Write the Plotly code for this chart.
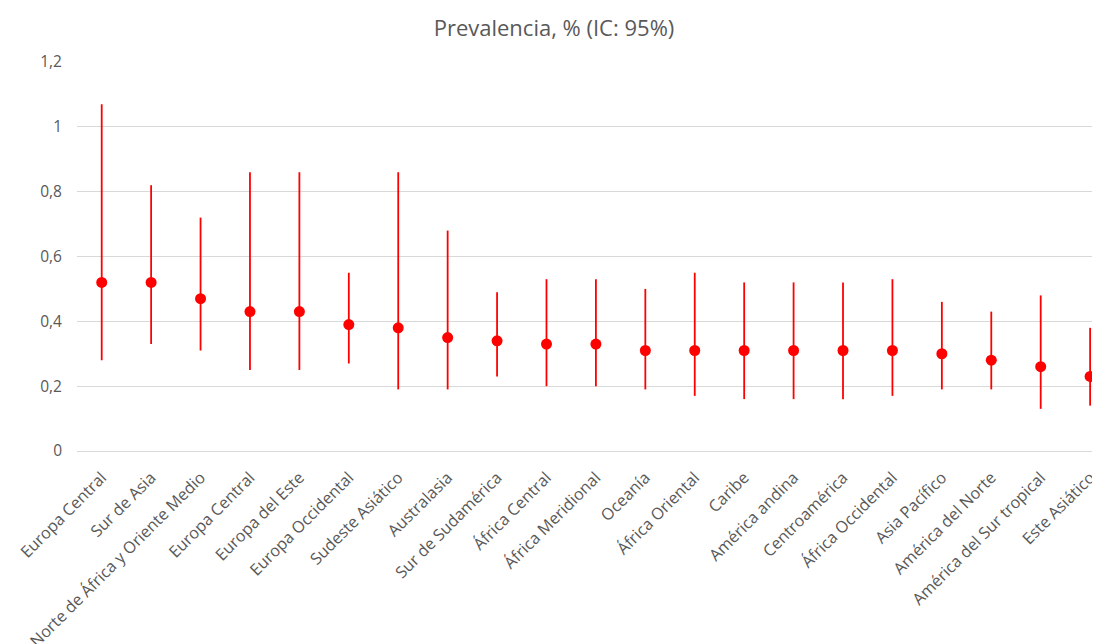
import plotly.graph_objects as go

regions = ["Europa Central", "Sur de Asia", "Norte de África y Oriente Medio", "Europa Central",
           "Europa del Este", "Europa Occidental", "Sudeste Asiático", "Australasia",
           "Sur de Sudamérica", "África Central", "África Meridional", "Oceanía",
           "África Oriental", "Caribe", "América andina", "Centroamérica",
           "África Occidental", "Asia Pacífico", "América del Norte",
           "América del Sur tropical", "Este Asiático"]
prevalence = [0.52, 0.52, 0.47, 0.43, 0.43, 0.39, 0.38, 0.35, 0.34, 0.33, 0.33,
              0.31, 0.31, 0.31, 0.31, 0.31, 0.31, 0.30, 0.28, 0.26, 0.23]
ci_low = [0.28, 0.33, 0.31, 0.25, 0.25, 0.27, 0.19, 0.19, 0.23, 0.20, 0.20,
          0.19, 0.17, 0.16, 0.16, 0.16, 0.17, 0.19, 0.19, 0.13, 0.14]
ci_high = [1.07, 0.82, 0.72, 0.86, 0.86, 0.55, 0.86, 0.68, 0.49, 0.53, 0.53,
           0.50, 0.55, 0.52, 0.52, 0.52, 0.53, 0.46, 0.43, 0.48, 0.38]
y_ticks = [0, 0.2, 0.4, 0.6, 0.8, 1.0, 1.2]

x_pos = list(range(len(regions)))
err_plus = [h - p for h, p in zip(ci_high, prevalence)]
err_minus = [p - l for p, l in zip(prevalence, ci_low)]

fig = go.Figure(go.Scatter(
    x=x_pos, y=prevalence, mode="markers",
    marker=dict(color="#ff0000", size=11),
    error_y=dict(type="data", symmetric=False, array=err_plus, arrayminus=err_minus,
                 color="#ff0000", thickness=1.8, width=0),
))

# page body has an 8px default margin, so the figure is sized 8px smaller
fig.update_layout(
    width=1092, height=636,
    paper_bgcolor="white", plot_bgcolor="white",
    separators=",.",
    font=dict(family="Open Sans, Noto Sans, sans-serif", color="#595959", size=14),
    title=dict(text="Prevalencia, % (IC: 95%)", x=0.5, xanchor="center", y=0.9686,
               yanchor="middle", font=dict(size=22, color="#595959")),
    margin=dict(l=69, r=0, t=54, b=193),
    showlegend=False,
    xaxis=dict(tickmode="array", tickvals=x_pos, ticktext=regions, tickangle=-45,
               range=[-0.5, 20.2], showgrid=False, zeroline=False, showline=False,
               automargin=False, ticklabelstandoff=13,
               tickfont=dict(size=16.2, color="#595959")),
    yaxis=dict(range=[0, 1.2], tickvals=y_ticks, showgrid=True, gridcolor="#d9d9d9",
               gridwidth=1, zeroline=True, zerolinecolor="#d9d9d9", zerolinewidth=1,
               automargin=False, ticklabelstandoff=14,
               tickfont=dict(size=15.5, color="#595959")),
)

fig.write_html("out.html")
